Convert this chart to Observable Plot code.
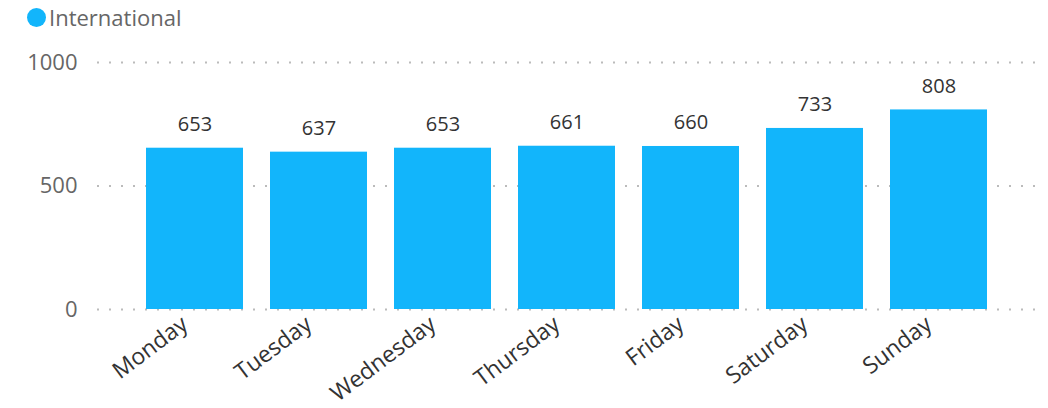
<!DOCTYPE html>
<html>
<head>
<meta charset="utf-8">
<script src="https://cdn.jsdelivr.net/npm/d3@7"></script>
<script src="https://cdn.jsdelivr.net/npm/@observablehq/plot@0.6"></script>
<style>
  body { margin: 0; background: #fff; font-family: "Open Sans", sans-serif; }
  #legend { height: 34px; display: flex; align-items: center; padding-left: 27px; box-sizing: border-box; font-size: 22px; color: #666; }
  #legend .dot { width: 19px; height: 19px; border-radius: 50%; background: #12B5FB; margin-right: 3px; }
</style>
</head>
<body>
<div id="legend"><span class="dot"></span><span>International</span></div>
<div id="chart"></div>
<script>
const days = ["Monday", "Tuesday", "Wednesday", "Thursday", "Friday", "Saturday", "Sunday"];
const values = [653, 637, 653, 661, 660, 733, 808];
const yTicks = [0, 500, 1000];
const seriesColor = "#12B5FB";

const data = days.map((d, i) => ({day: d, value: values[i]}));

const chart = Plot.plot({
  width: 1048,
  height: 374,
  marginLeft: 97,
  marginRight: 13,
  marginTop: 28,
  marginBottom: 99,
  style: {fontFamily: "Open Sans, sans-serif", background: "#fff"},
  x: {domain: days, paddingInner: 0.22, paddingOuter: 0.39},
  y: {domain: [0, 1000]},
  marks: [
    Plot.ruleY(yTicks, {stroke: "#bbb", strokeWidth: 2, strokeDasharray: "2,10", strokeOpacity: 1}),
    Plot.barY(data, {x: "day", y: "value", fill: seriesColor}),
    Plot.text(data, {x: "day", y: "value", text: d => String(d.value), lineAnchor: "bottom", dy: -17, fontSize: 20, fill: "#333"}),
    Plot.axisY({ticks: yTicks, tickFormat: d => String(d), tickSize: 0, tickPadding: 20, fontSize: 22, fill: "#666", label: null}),
    Plot.axisX({tickSize: 0, tickPadding: 12, tickRotate: -37, fontSize: 23, fill: "#333", dx: -10, label: null})
  ]
});
document.getElementById("chart").appendChild(chart);
</script>
</body>
</html>
